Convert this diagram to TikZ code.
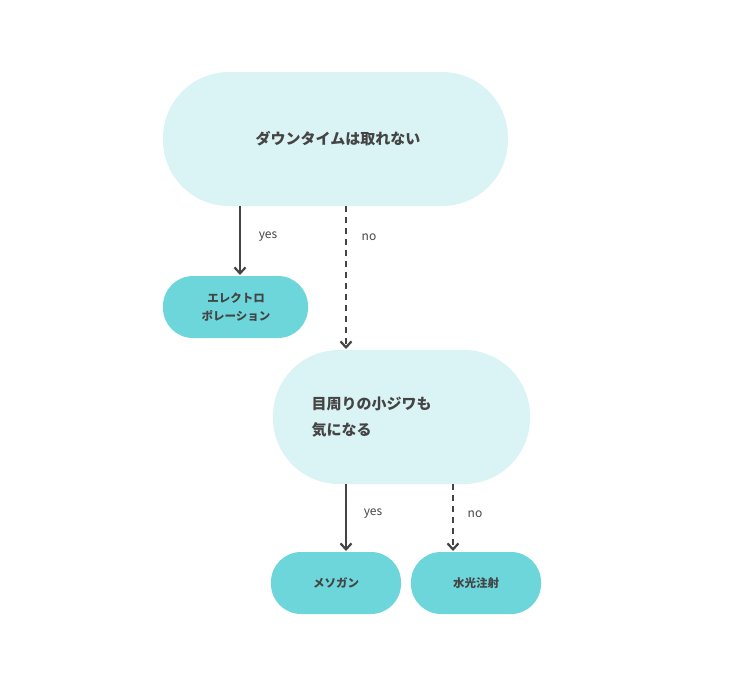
\documentclass[tikz,border=0pt]{standalone}
\usepackage{fontspec}
\setmainfont{Noto Sans CJK JP}
\usetikzlibrary{arrows.meta}
\definecolor{lightpill}{HTML}{DAF3F4}
\definecolor{darkpill}{HTML}{6DD6DA}
\definecolor{ink}{HTML}{444444}
\tikzset{
  bigpill/.style={rounded corners=66pt,fill=lightpill,font=\bfseries\fontsize{15}{24}\selectfont,text=ink},
  smallpill/.style={rounded corners=30pt,fill=darkpill,font=\bfseries\fontsize{11.5}{17}\selectfont,text=ink},
  link/.style={ink,line width=2.2pt,-{Straight Barb[length=6pt,width=11pt]}},
  lbl/.style={text=ink,font=\fontsize{12}{14}\selectfont}
}
\begin{document}
\begin{tikzpicture}[x=1pt,y=-1pt]
\useasboundingbox (0,0) rectangle (736,686);

% -- question pills
\fill[bigpill] (163,72) rectangle (508,206);
\node[text=ink,font=\bfseries\fontsize{15}{24}\selectfont] (q1) at (338,139) {ダウンタイムは取れない};
\fill[bigpill] (273,350) rectangle (530,484);
\node[text=ink,font=\bfseries\fontsize{15}{26}\selectfont,align=left,anchor=west] (q2) at (308,417) {目周りの小ジワも\\気になる};

% -- answer pills
\fill[smallpill] (163,276) rectangle (308,338);
\node[text=ink,font=\bfseries\fontsize{11.5}{18}\selectfont,align=center] (a1) at (236,307) {エレクトロ\\ポレーション};
\fill[smallpill] (271,552) rectangle (401,614);
\node[text=ink,font=\bfseries\fontsize{11.5}{18}\selectfont] (a2) at (336,583) {メソガン};
\fill[smallpill] (411,552) rectangle (541,614);
\node[text=ink,font=\bfseries\fontsize{11.5}{18}\selectfont] (a3) at (476,583) {水光注射};

% -- arrows
\coordinate (s1) at (240,206); \coordinate (e1) at (240,275);
\coordinate (s2) at (346,206); \coordinate (e2) at (346,349);
\coordinate (s3) at (346,484); \coordinate (e3) at (346,551);
\coordinate (s4) at (453,484); \coordinate (e4) at (453,551);
\draw[link] (s1) -- (e1);
\draw[link,dash pattern=on 6pt off 5pt] (s2) -- (e2);
\draw[link] (s3) -- (e3);
\draw[link,dash pattern=on 6pt off 5pt] (s4) -- (e4);

\node[lbl] (y1) at (268,237) {yes};
\node[lbl] (n1) at (369,237) {no};
\node[lbl] (y2) at (373,514) {yes};
\node[lbl] (n2) at (475,514) {no};
\end{tikzpicture}
\end{document}
